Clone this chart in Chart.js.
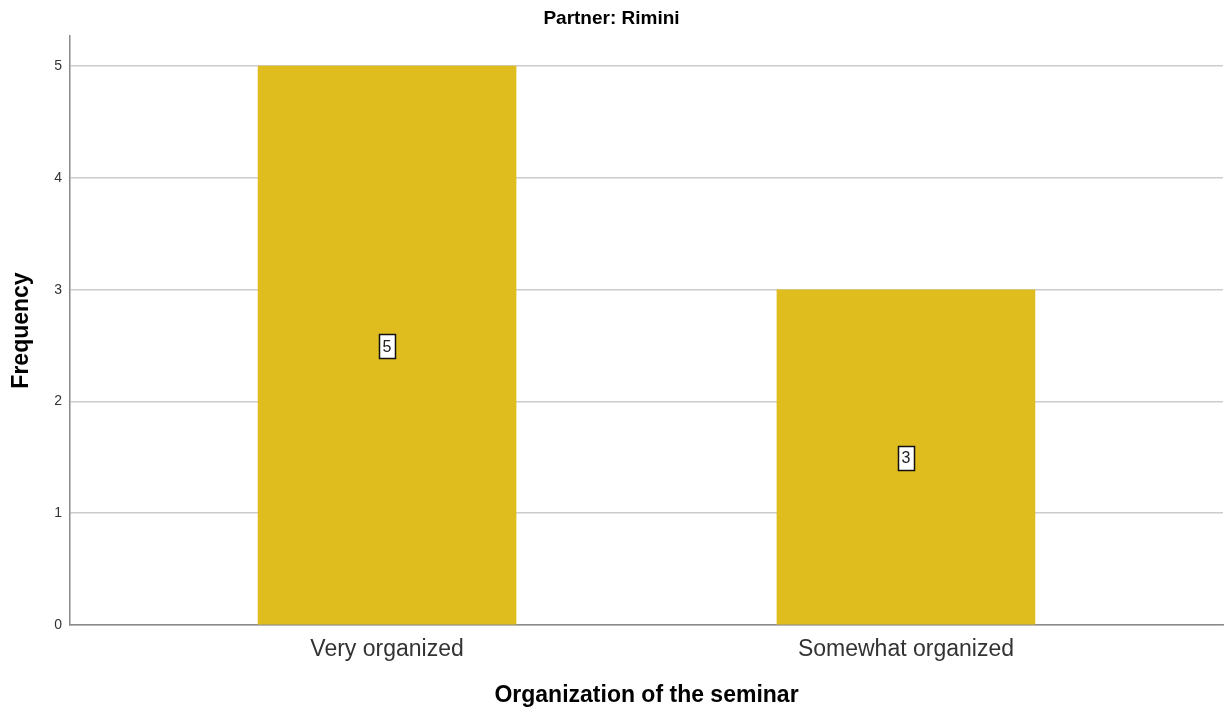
<!DOCTYPE html>
<html>
<head>
<meta charset="utf-8">
<script src="https://cdn.jsdelivr.net/npm/chart.js@4"></script>
<style>
html,body{margin:0;padding:0;background:#fff;}
#wrap{width:1224px;height:711px;position:relative;}
</style>
</head>
<body>
<div id="wrap"><canvas id="c" width="1224" height="711"></canvas></div>
<script>
const categories = ["Very organized", "Somewhat organized"];
const frequencies = [5, 3];
const yTicks = [0, 1, 2, 3, 4, 5];
const chartTitle = "Partner: Rimini";
const xTitle = "Organization of the seminar";
const yTitle = "Frequency";

const FONT = "'Liberation Sans', Arial, sans-serif";

const labelPlugin = {
  id: 'barLabels',
  afterDatasetsDraw(chart) {
    const ctx = chart.ctx;
    const meta = chart.getDatasetMeta(0);
    ctx.save();
    ctx.font = "16px " + FONT;
    ctx.textAlign = 'center';
    ctx.textBaseline = 'middle';
    meta.data.forEach((bar, i) => {
      const txt = String(frequencies[i]);
      const cx = bar.x;
      const cy = (bar.y + bar.base) / 2;
      const w = 16;
      const h = 24;
      const x0 = Math.round(cx - w / 2) + 0.5;
      const y0 = Math.round(cy - h / 2) + 1.5;
      ctx.fillStyle = '#ffffff';
      ctx.fillRect(x0, y0, w, h);
      ctx.strokeStyle = '#111111';
      ctx.lineWidth = 1.5;
      ctx.strokeRect(x0, y0, w, h);
      ctx.fillStyle = '#222222';
      ctx.fillText(txt, cx, cy + 2);
    });
    ctx.restore();
  }
};

new Chart(document.getElementById('c'), {
  type: 'bar',
  data: {
    datasets: [{
      data: categories.map((c, i) => ({ x: i, y: frequencies[i] })),
      backgroundColor: '#E0BD1F',
      borderWidth: 0,
      barThickness: 258
    }]
  },
  options: {
    responsive: false,
    animation: false,
    layout: { padding: { left: 0, right: 1, top: 0, bottom: 0 } },
    plugins: {
      legend: { display: false },
      tooltip: { enabled: false },
      title: {
        display: true,
        text: chartTitle,
        color: '#000',
        font: { family: FONT, size: 19, weight: 'bold' },
        padding: { top: 7.5, bottom: 5.7 }
      }
    },
    scales: {
      x: {
        type: 'linear',
        offset: false,
        min: -0.611,
        max: 1.611,
        afterBuildTicks(scale) { scale.ticks = categories.map((c, i) => ({ value: i })); },
        afterFit(scale) { scale.height = 86; },
        grid: { display: false, drawTicks: false, offset: false },
        border: { display: true, color: '#8a8a8a', width: 1.5 },
        ticks: {
          callback: (v) => categories[v] !== undefined ? categories[v] : '',
          color: '#333',
          font: { family: FONT, size: 23 },
          padding: 11,
          maxRotation: 0,
          autoSkip: false
        },
        title: {
          display: true,
          text: xTitle,
          color: '#000',
          font: { family: FONT, size: 23, weight: 'bold' },
          padding: { top: 1.2, bottom: 1.2 }
        }
      },
      y: {
        min: 0,
        max: 5.27,
        afterBuildTicks(scale) { scale.ticks = yTicks.map(v => ({ value: v })); },
        afterFit(scale) { scale.width = 70; },
        grid: { color: '#cccccc', lineWidth: 1.5, drawTicks: false },
        border: { display: true, color: '#8a8a8a', width: 1.5 },
        ticks: {
          color: '#333',
          font: { family: FONT, size: 14 },
          padding: 8
        },
        title: {
          display: true,
          text: yTitle,
          color: '#000',
          font: { family: FONT, size: 23, weight: 'bold' },
          padding: { top: 8.2, bottom: 8.2 }
        }
      }
    }
  },
  plugins: [labelPlugin]
});
</script>
</body>
</html>
